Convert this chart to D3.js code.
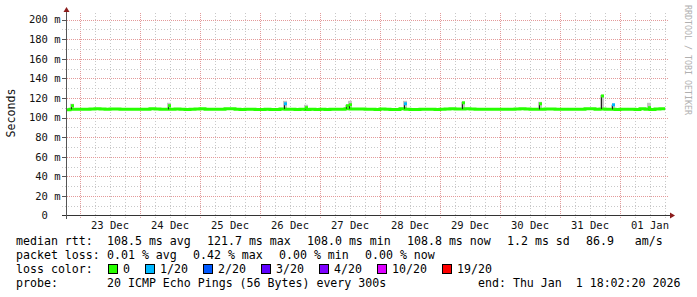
<!DOCTYPE html>
<html><head><meta charset="utf-8">
<script src="https://cdn.jsdelivr.net/npm/d3@7"></script>
<style>
body{margin:0;background:#fff}
svg{display:block}
text{font-family:"DejaVu Sans Mono",monospace;white-space:pre}
</style>
</head><body><svg id="c" width="697" height="297"></svg>
<script>
// ---------- data ----------
const startTime = Date.UTC(2025, 11, 22, 18, 0, 0);
const endTime = Date.UTC(2026, 0, 1, 18, 0, 0);
const dataEnd = Date.UTC(2026, 0, 1, 18, 2, 20);
const binHours = 2;
const medianRtt = [
  107.9, 108.3, 108.3,
  108.3, 108.4, 108.8, 108.9, 108.8, 108.3, 108.8, 108.8, 108.4, 108.4, 108.3, 108.3,
  108.4, 108.3, 108.9, 108.6, 108.4, 108.3, 108.3, 108.8, 108.4, 108.2, 108.3, 108.8,
  108.9, 108.4, 108.3, 108.3, 108.4, 109.0, 108.9, 108.3, 108.2, 108.3, 108.3, 108.2,
  108.2, 108.3, 108.2, 108.2, 108.7, 108.3, 108.3, 108.2, 108.3, 108.2, 108.3, 108.2,
  108.3, 108.2, 108.3, 108.4, 108.3, 109.0, 108.6, 108.8, 108.6, 108.3, 108.3, 108.2,
  108.8, 108.5, 108.2, 108.2, 108.9, 108.4, 108.2, 108.2, 108.3, 108.3, 108.3, 108.2,
  108.3, 108.8, 108.9, 108.7, 108.6, 108.9, 108.7, 108.5, 108.3, 108.5, 108.3, 108.3,
  108.3, 108.3, 108.3, 108.7, 108.9, 108.7, 108.4, 108.3, 108.3, 108.7, 108.8, 108.3,
  108.3, 108.3, 108.3, 108.3, 108.3, 108.9, 108.9, 108.3, 108.6, 108.3, 108.3, 108.2,
  108.3, 108.3, 108.3, 108.2, 108.9, 108.5, 108.2, 108.6, 108.9
];
const spikeTimes = [
  "2025-12-22T20:24:00Z", "2025-12-24T11:12:00Z", "2025-12-26T09:36:00Z",
  "2025-12-26T18:00:00Z", "2025-12-27T10:24:00Z", "2025-12-27T11:36:00Z",
  "2025-12-28T09:36:00Z", "2025-12-29T08:48:00Z", "2025-12-30T15:36:00Z",
  "2025-12-31T16:24:00Z", "2025-12-31T20:48:00Z", "2026-01-01T11:12:00Z"
];
const spikeValues = [112, 112, 114, 110, 112, 113, 114, 115, 114, 122, 113, 110];
const spikeSmoke  = [114, 115, 117, 113, 113, 117, 117, 116, 116, 123, 113, 115];
const spikeLoss   = [0, 0, 1, 0, 0, 0, 1, 0, 0, 0, 1, 0];
const yTicks = [0, 20, 40, 60, 80, 100, 120, 140, 160, 180, 200];
const yMinorTicks = [10, 30, 50, 70, 90, 110, 130, 150, 170, 190];
const dayLabels = ["23 Dec", "24 Dec", "25 Dec", "26 Dec", "27 Dec", "28 Dec", "29 Dec", "30 Dec", "31 Dec", "01 Jan"];
const lossLevels = ["0", "1/20", "2/20", "3/20", "4/20", "10/20", "19/20"];
const lossColors = ["#26ff00", "#00b8ff", "#0059ff", "#5e00ff", "#7e00ff", "#dd00ff", "#ff0000"];
const medianStats = ["108.5 ms avg", "121.7 ms max", "108.0 ms min", "108.8 ms now", "1.2 ms sd", "86.9   am/s"];
const lossStats = ["0.01 % avg", "0.42 % max", "0.00 % min", "0.00 % now"];
const probeText = "20 ICMP Echo Pings (56 Bytes) every 300s";
const endText = "end: Thu Jan  1 18:02:20 2026";

// ---------- layout ----------
const svg = d3.select("#c");
const x = d3.scaleUtc().domain([startTime, endTime]).range([65, 665]);
const y = d3.scaleLinear().domain([0, 200]).range([215.5, 19.5]);
const px = v => Math.round(v) + 0.5;
const plotL = 67, plotR = 668, axisY = 215.5;
const minorCol = "#c8c8c8", majorCol = "#e39a9a";

// vertical grid: 6h minor, midnight major
const sixH = d3.utcHour.every(6).range(new Date(startTime + 1), new Date(endTime + 1));
sixH.forEach(t => {
  const xx = px(x(t));
  if (xx < plotL) return;
  const major = t.getUTCHours() === 0;
  svg.append("line").attr("x1", xx).attr("x2", xx).attr("y1", 13).attr("y2", 219)
    .attr("stroke", major ? majorCol : minorCol)
    .attr("stroke-dasharray", major ? "1,1" : "1,2");
});
// horizontal grid
yMinorTicks.forEach(v => {
  svg.append("line").attr("x1", 62).attr("x2", plotR).attr("y1", px(y(v))).attr("y2", px(y(v)))
    .attr("stroke", minorCol).attr("stroke-dasharray", "1,2");
});
yTicks.forEach(v => {
  if (v === 0) return;
  svg.append("line").attr("x1", 67).attr("x2", plotR).attr("y1", px(y(v))).attr("y2", px(y(v)))
    .attr("stroke", majorCol).attr("stroke-dasharray", "1,1");
  svg.append("line").attr("x1", 62).attr("x2", 67).attr("y1", px(y(v))).attr("y2", px(y(v)))
    .attr("stroke", "#555");
});

// clip
svg.append("clipPath").attr("id", "pc").append("rect")
  .attr("x", 67).attr("y", 10).attr("width", 600).attr("height", 206);
const g = svg.append("g").attr("clip-path", "url(#pc)");

// smoke for spikes
spikeTimes.forEach((s, i) => {
  const t = Date.parse(s);
  const bin = Math.floor((t - startTime) / (binHours * 3600e3));
  const base = medianRtt[bin];
  const xx = Math.round(x(t));
  g.append("rect").attr("x", xx - 1).attr("width", 4)
    .attr("y", y(spikeSmoke[i])).attr("height", Math.max(0, y(base) - y(spikeSmoke[i])))
    .attr("fill", "#c4c4c4");
});

// median line
const pts = medianRtt.map((v, i) => [startTime + i * binHours * 3600e3, v]);
pts.push([dataEnd, medianRtt[medianRtt.length - 1]]);
g.append("path").datum(pts)
  .attr("d", d3.line().x(d => x(d[0])).y(d => y(d[1])).curve(d3.curveStepAfter))
  .attr("fill", "none").attr("stroke", lossColors[0]).attr("stroke-width", 3);

// spikes
spikeTimes.forEach((s, i) => {
  const t = Date.parse(s);
  const bin = Math.floor((t - startTime) / (binHours * 3600e3));
  const base = medianRtt[bin];
  const xx = Math.round(x(t));
  g.append("line").attr("x1", xx + 0.5).attr("x2", xx + 0.5)
    .attr("y1", y(base)).attr("y2", y(spikeValues[i]))
    .attr("stroke", "#222").attr("stroke-width", 1);
  g.append("rect").attr("x", xx).attr("width", 3)
    .attr("y", y(spikeValues[i]) - 1.5).attr("height", 3)
    .attr("fill", lossColors[spikeLoss[i]]);
});

// axes
svg.append("line").attr("x1", 62).attr("x2", 671).attr("y1", axisY).attr("y2", axisY).attr("stroke", "#333");
svg.append("line").attr("x1", 66.5).attr("x2", 66.5).attr("y1", 219).attr("y2", 11).attr("stroke", "#555");
svg.append("path").attr("d", "M670,212.5L675,215.5L670,218.5Z").attr("fill", "#8b1c1c");
svg.append("path").attr("d", "M63.5,12L66.5,7L69.5,12Z").attr("fill", "#8b1c1c");

// y tick labels
yTicks.forEach(v => {
  svg.append("text").attr("x", 60.5).attr("y", y(v) + 3.8)
    .attr("text-anchor", "end").attr("font-size", "10.5px").attr("fill", "#111")
    .text(v === 0 ? "0  " : v + " m");
});
// x tick labels at noon
dayLabels.forEach((lab, i) => {
  const t = Date.UTC(2025, 11, 23 + i, 12, 0, 0);
  svg.append("text").attr("x", x(t)).attr("y", 228.5)
    .attr("text-anchor", "middle").attr("font-size", "10.5px").attr("fill", "#111")
    .text(lab);
});

// y axis title
svg.append("text").attr("transform", "translate(15,113) rotate(-90)")
  .attr("text-anchor", "middle").attr("font-size", "11.6px").attr("fill", "#111").text("Seconds");
// watermark
svg.append("text").attr("transform", "translate(685,5) rotate(90)")
  .attr("font-size", "8.3px").attr("fill", "#b0b0b0").text("RRDTOOL / TOBI OETIKER");

// legend
const cw = 7, fs = "11.6px";
function txt(xx, yy, s) {
  svg.append("text").attr("x", xx).attr("y", yy).attr("font-size", fs).attr("fill", "#000").text(s);
}
txt(16, 245, "median rtt:");
let cx = 107;
medianStats.forEach(s => { txt(cx, 245, s); cx += s.length * cw + 16; });
txt(16, 259, "packet loss:");
cx = 107;
lossStats.forEach(s => { txt(cx, 259, s); cx += s.length * cw + 16; });
txt(16, 273, "loss color:");
cx = 108;
lossLevels.forEach((s, i) => {
  svg.append("rect").attr("x", cx + 0.5).attr("y", 264.5).attr("width", 9).attr("height", 9)
    .attr("fill", lossColors[i]).attr("stroke", "#000");
  txt(cx + 15, 273, s);
  cx = cx + 15 + s.length * cw + 15;
});
txt(16, 287, "probe:");
txt(107, 287, probeText);
txt(478, 287, endText);
</script>
</body></html>
